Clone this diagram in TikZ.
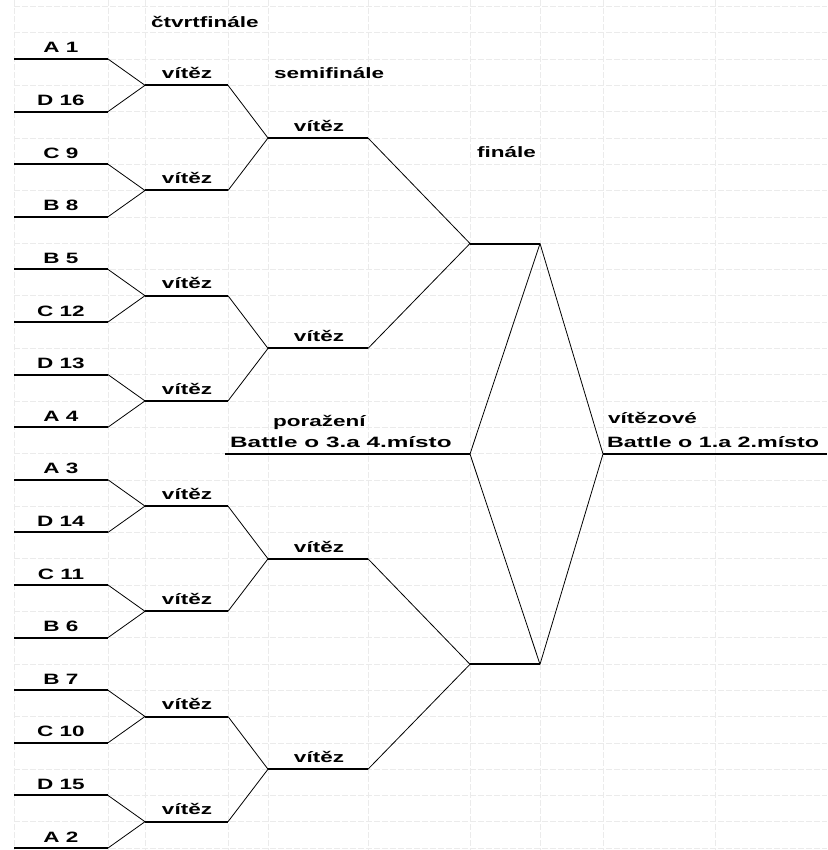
\documentclass[tikz,border=0pt]{standalone}
\usepackage{fontspec}
\newfontfamily\cellfont{Liberation Sans}[FakeStretch=1.5]
\newfontfamily\widefont{Liberation Sans}[FakeStretch=1.62]
\newfontfamily\edgefont{Liberation Sans}[FakeStretch=1.55]
\usepackage{tikz}
\usetikzlibrary{positioning}

\begin{document}
\begin{tikzpicture}[
    x=1pt, y=-1pt,
    every node/.style={font=\cellfont\bfseries\fontsize{15}{18}\selectfont, inner sep=0pt, anchor=base},
    head/.style={anchor=base west},
    wide/.style={font=\widefont\bfseries\fontsize{15}{18}\selectfont},
    edge text/.style={font=\edgefont\bfseries\fontsize{15}{18}\selectfont},
    slot/.style={line width=2pt},
    link/.style={line width=0.8pt},
    gridline/.style={gray!16, line width=0.5pt, dash pattern=on 6pt off 2pt},
  ]
    \useasboundingbox (0,0) rectangle (827,850);

    % spreadsheet grid
    \foreach \gx in {14,108,145,228,268,368,470,540,603,715}
      \draw[gridline] (\gx,0) -- (\gx,850);
    \foreach \k in {0,...,32}
      \draw[gridline] (14,6.4+26.3*\k) -- (827,6.4+26.3*\k);

    % teams
    \foreach \team [count=\i from 0] in {A 1,D 16,C 9,B 8,B 5,C 12,D 13,A 4,A 3,D 14,C 11,B 6,B 7,C 10,D 15,A 2} {
      \coordinate (t\i-l) at (14,59+52.6*\i);
      \coordinate (t\i-r) at (108,59+52.6*\i);
      \node (t\i) at (61,53+52.6*\i) {\team};
      \draw[slot] (t\i-l) -- (t\i-r);
    }

    % quarterfinal winners
    \foreach \j in {0,...,7} {
      \pgfmathtruncatemacro\ta{2*\j}
      \pgfmathtruncatemacro\tb{2*\j+1}
      \coordinate (q\j-l) at (145,85.3+105.2*\j);
      \coordinate (q\j-r) at (228,85.3+105.2*\j);
      \node (q\j) at (187,78.5+105.2*\j) {vítěz};
      \draw[slot] (q\j-l) -- (q\j-r);
      \draw[link] (t\ta-r) -- (q\j-l) -- (t\tb-r);
    }

    % semifinal winners
    \foreach \j in {0,...,3} {
      \pgfmathtruncatemacro\qa{2*\j}
      \pgfmathtruncatemacro\qb{2*\j+1}
      \coordinate (s\j-l) at (268,138+210.4*\j);
      \coordinate (s\j-r) at (368,138+210.4*\j);
      \node (s\j) at (319,131.5+210.4*\j) {vítěz};
      \draw[slot] (s\j-l) -- (s\j-r);
      \draw[link] (q\qa-r) -- (s\j-l) -- (q\qb-r);
    }

    % finalists
    \coordinate (f0-l) at (470,243.5);
    \coordinate (f0-r) at (540,243.5);
    \coordinate (f1-l) at (470,664.3);
    \coordinate (f1-r) at (540,664.3);
    \draw[slot] (f0-l) -- (f0-r);
    \draw[slot] (f1-l) -- (f1-r);
    \draw[link] (s0-r) -- (f0-l) -- (s1-r);
    \draw[link] (s2-r) -- (f1-l) -- (s3-r);

    % placement matches
    \coordinate (loser-l) at (225,454);
    \coordinate (loser-r) at (470,454);
    \coordinate (winner-l) at (603,454);
    \coordinate (winner-r) at (827,454);
    \draw[slot] (loser-l) -- (loser-r);
    \draw[slot] (winner-l) -- (winner-r);
    \draw[link] (f0-r) -- (loser-r) -- (f1-r);
    \draw[link] (f0-r) -- (winner-l) -- (f1-r);

    % headings
    \node[head] (quarter) at (151,28) {čtvrtfinále};
    \node[head] (semi) at (274,79) {semifinále};
    \node[head] (final) at (477,158) {finále};
    \node[head] (loser) at (273,426) {poražení};
    \node[head, wide] (loserbattle) at (230,447) {Battle o 3.a 4.místo};
    \node[head] (winner) at (608,423) {vítězové};
    \node[head, edge text] (winnerbattle) at (607,447) {Battle o 1.a 2.místo};
  \end{tikzpicture}
\end{document}
